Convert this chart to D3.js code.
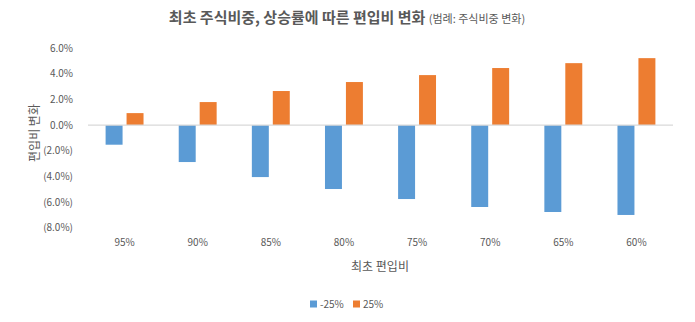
<!DOCTYPE html>
<html><head><meta charset="utf-8">
<script src="https://cdn.jsdelivr.net/npm/d3@7"></script>
<style>body{margin:0;background:#fff;} svg{display:block;}</style>
</head><body>
<script>
const categories = ["95%","90%","85%","80%","75%","70%","65%","60%"];
const seriesNames = ["-25%","25%"];
const downValues = [-1.53,-2.88,-4.05,-4.98,-5.76,-6.38,-6.77,-7.00];
const upValues = [0.93,1.79,2.65,3.35,3.89,4.44,4.82,5.21];
const yTicks = [6,4,2,0,-2,-4,-6,-8];
const colors = ["#5b9bd5","#ed7d31"];

const W=695,H=322;
const svg=d3.select("body").append("svg").attr("width",W).attr("height",H);
const font="'Noto Sans CJK KR','Noto Sans',sans-serif";
const txt="#595959";

const x0=d3.scaleBand().domain(categories).range([88,673]);
const x1=d3.scaleBand().domain(seriesNames).range([0,x0.bandwidth()]).paddingInner(0.19).paddingOuter(0.84);
const y=d3.scaleLinear().domain([-8,6]).range([227.8,48]);

// y axis labels
const fmt=v=>v<0?"("+Math.abs(v).toFixed(1)+"%)":v.toFixed(1)+"%";
svg.append("g").selectAll("text").data(yTicks).join("text")
  .attr("x",73).attr("y",d=>y(d)).attr("dy","0.35em").attr("text-anchor","end")
  .attr("font-family",font).attr("font-size",10).attr("fill",txt).text(fmt);

// bars
const data=categories.map((c,i)=>({c,vals:[{s:seriesNames[0],v:downValues[i]},{s:seriesNames[1],v:upValues[i]}]}));
const g=svg.append("g").selectAll("g").data(data).join("g").attr("transform",d=>`translate(${x0(d.c)},0)`);
g.selectAll("rect").data(d=>d.vals).join("rect")
  .attr("x",d=>x1(d.s)).attr("width",x1.bandwidth())
  .attr("y",d=>y(Math.max(0,d.v))).attr("height",d=>Math.abs(y(d.v)-y(0)))
  .attr("fill",(d,i)=>colors[i]);

// zero line
svg.append("line").attr("x1",88).attr("x2",673).attr("y1",y(0)).attr("y2",y(0)).attr("stroke","#d9d9d9").attr("stroke-width",1.3);

// x labels
svg.append("g").selectAll("text").data(categories).join("text")
  .attr("x",d=>x0(d)+x0.bandwidth()/2).attr("y",242).attr("dy","0.35em").attr("text-anchor","middle")
  .attr("font-family",font).attr("font-size",10).attr("fill",txt).text(d=>d);

// title
const t=svg.append("text").attr("x",347).attr("y",23).attr("text-anchor","middle").attr("font-family",font).attr("fill",txt);
t.append("tspan").attr("font-size",15).attr("font-weight","bold").text("최초 주식비중, 상승률에 따른 편입비 변화 ");
t.append("tspan").attr("font-size",11).text("(범례: 주식비중 변화)");

// axis titles
svg.append("text").attr("transform","translate(35,133) rotate(-90)").attr("text-anchor","middle").attr("dy","0.35em")
  .attr("font-family",font).attr("font-size",12).attr("fill",txt).text("편입비 변화");
svg.append("text").attr("x",380).attr("y",267).attr("text-anchor","middle").attr("dy","0.35em")
  .attr("font-family",font).attr("font-size",12).attr("fill",txt).text("최초 편입비");

// legend
const leg=svg.append("g").selectAll("g").data(seriesNames).join("g").attr("transform",(d,i)=>`translate(${i?353:310},304)`);
leg.append("rect").attr("x",0).attr("y",-3.5).attr("width",7).attr("height",7).attr("fill",(d,i)=>colors[i]);
leg.append("text").attr("x",10).attr("dy","0.35em").attr("font-family",font).attr("font-size",10).attr("fill",txt).text(d=>d);
</script>
</body></html>
